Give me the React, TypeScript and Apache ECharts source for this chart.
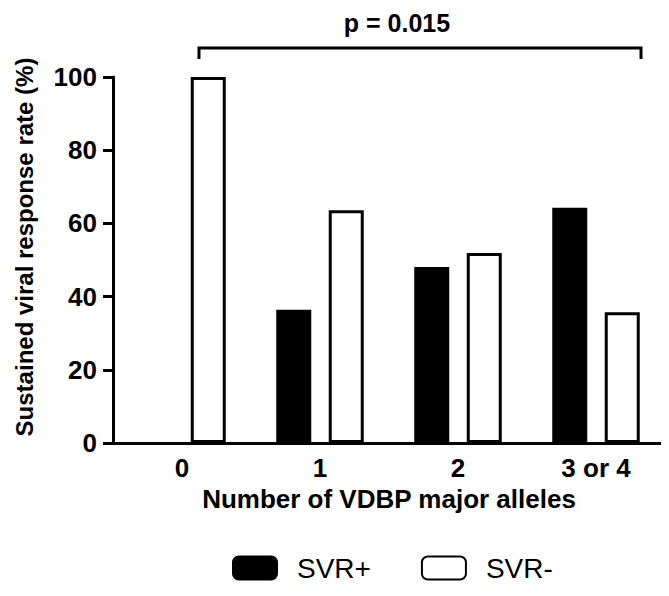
import React, { useEffect, useRef } from "react";
import * as echarts from "echarts";

const categories = ["0", "1", "2", "3 or 4"];
const svrPlus = [0, 36.4, 48.1, 64.3];
const svrMinus = [100, 63.6, 51.9, 35.7];
const seriesNames = ["SVR+", "SVR-"];
const yTitle = "Sustained viral response rate (%)";
const xTitle = "Number of VDBP major alleles";
const pText = "p = 0.015";

const FONT = "'Liberation Sans', Arial, Helvetica, sans-serif";

export default function App() {
  const ref = useRef<HTMLDivElement>(null);
  useEffect(() => {
    if (!ref.current) return;
    const chart = echarts.init(ref.current, null, { renderer: "svg" });
    chart.setOption({
      animation: false,
      backgroundColor: "#ffffff",
      textStyle: { fontFamily: FONT },
      grid: { left: 113, right: 4, top: 77, bottom: 153, containLabel: false },
      legend: {
        data: seriesNames,
        left: 232,
        top: 553,
        padding: 0,
        itemWidth: 44,
        itemHeight: 23,
        itemGap: 50,
        icon: "roundRect",
        textStyle: {
          fontSize: 28,
          lineHeight: 30,
          color: "#000",
          fontFamily: FONT,
          padding: [0, 0, 0, 15],
        },
      },
      xAxis: {
        type: "category",
        data: categories,
        axisLine: { lineStyle: { color: "#000", width: 3 } },
        axisTick: { alignWithLabel: true, length: 10, lineStyle: { color: "#000", width: 3 } },
        axisLabel: { color: "#000", fontSize: 26, fontWeight: "bold", margin: 12, fontFamily: FONT },
        name: xTitle,
        nameLocation: "middle",
        nameGap: 41,
        nameTextStyle: { color: "#000", fontSize: 26, fontWeight: "bold", fontFamily: FONT },
      },
      yAxis: {
        type: "value",
        min: 0,
        max: 100,
        interval: 20,
        axisLine: { show: true, lineStyle: { color: "#000", width: 3 } },
        axisTick: { show: true, length: 10, lineStyle: { color: "#000", width: 3 } },
        axisLabel: { color: "#000", fontSize: 26, fontWeight: "bold", margin: 16, fontFamily: FONT },
        splitLine: { show: false },
      },
      graphic: [
        {
          type: "text",
          x: 24,
          y: 247,
          rotation: Math.PI / 2,
          style: {
            text: yTitle,
            fontSize: 24,
            fontWeight: "bold",
            fontFamily: FONT,
            fill: "#000",
            align: "center",
            verticalAlign: "middle",
          },
        },
        {
          type: "text",
          x: 397,
          y: 23,
          style: {
            text: pText,
            fontSize: 25,
            fontWeight: "bold",
            fontFamily: FONT,
            fill: "#000",
            align: "center",
            verticalAlign: "middle",
          },
        },
        {
          type: "polyline",
          shape: { points: [[199, 59], [199, 48], [641, 48], [641, 59]] },
          style: { stroke: "#000", lineWidth: 3, fill: "none" },
        },
      ],
      series: [
        {
          name: seriesNames[0],
          type: "bar",
          data: svrPlus.map((v) => (v === 0 ? "-" : v)),
          barWidth: 35,
          barGap: "50%",
          itemStyle: { color: "#000", borderColor: "#000", borderWidth: 3 },
        },
        {
          name: seriesNames[1],
          type: "bar",
          data: svrMinus,
          barWidth: 35,
          itemStyle: { color: "#fff", borderColor: "#000", borderWidth: 3 },
        },
      ],
    });
    return () => chart.dispose();
  }, []);
  return <div ref={ref} style={{ width: 669, height: 596, margin: -8 }} />;
}
